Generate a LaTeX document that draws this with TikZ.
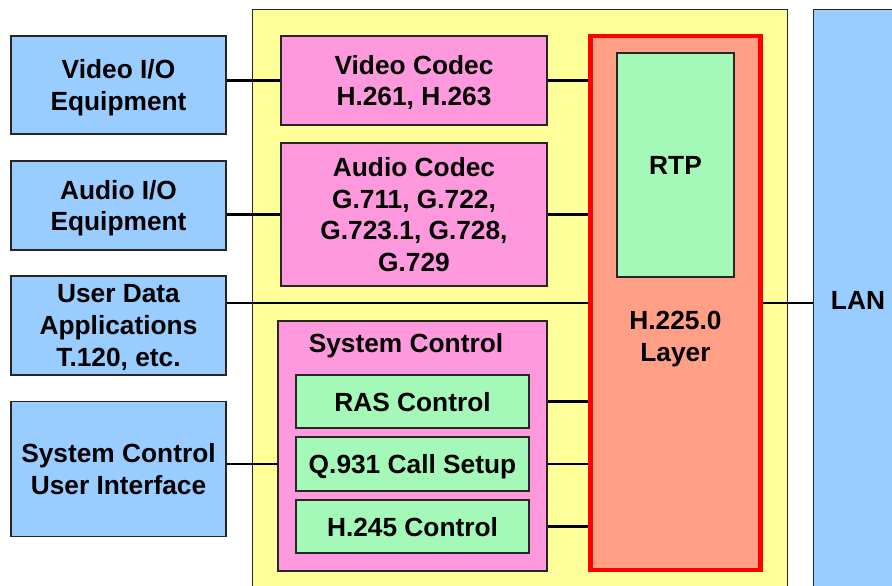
\documentclass[tikz,border=0pt]{standalone}
\usepackage{fontspec}
\setmainfont{Liberation Sans}
\pgfdeclarelayer{back}
\pgfdeclarelayer{wires}
\pgfsetlayers{back,wires,main}
\definecolor{ioblue}{HTML}{99CCFF}
\definecolor{termyellow}{HTML}{FFFF99}
\definecolor{codecpink}{HTML}{FF99DD}
\definecolor{protogreen}{HTML}{A4F8B8}
\definecolor{layersalmon}{HTML}{FF9F85}
\definecolor{layerred}{HTML}{FF0000}
\tikzset{
  txt/.style={align=center, text depth=0pt,
    font=\bfseries\fontsize{26.3}{31.8}\selectfont},
  box/.style={txt, draw=black!85, line width=1.3pt, inner sep=0pt},
  iobox/.style={box, fill=ioblue},
  termbox/.style={box, fill=termyellow},
  codecbox/.style={box, fill=codecpink},
  protobox/.style={box, fill=protogreen},
  layerbox/.style={box, draw=layerred, line width=4.5pt, fill=layersalmon},
  label/.style={txt, inner sep=0pt},
  wire/.style={draw=black, line width=2.6pt}
}
\begin{document}
\begin{tikzpicture}[x=1pt,y=-1pt]
  \useasboundingbox (0,0) rectangle (892,586);
  \clip (0,0) rectangle (892,586);

  % page, terminal frame and network
  \begin{pgfonlayer}{back}
    \fill[white] (0,0) rectangle (892,586);
    \node[termbox, anchor=north west, minimum width=535pt, minimum height=620pt] (term) at (252,9) {};
    \node[iobox, anchor=north west, minimum width=150pt, minimum height=620pt] (lan) at (813,9) {};
  \end{pgfonlayer}
  \node[label] (lant) at (858,300) {LAN};

  % external equipment
  \node[iobox, minimum width=215pt, minimum height=98pt]  (vio)   at (118.5,85)    {Video I/O\\Equipment};
  \node[iobox, minimum width=215pt, minimum height=89pt]  (aio)   at (118.5,205.5) {Audio I/O\\Equipment};
  \node[iobox, minimum width=215pt, minimum height=99pt]  (udapp) at (118.5,325.5) {User Data\\Applications\\T.120, etc.};
  \node[iobox, minimum width=215pt, minimum height=135pt] (scui)  at (118.5,469)   {System Control\\User Interface};

  % codecs
  \node[codecbox, minimum width=266pt, minimum height=89pt]  (vcod) at (414,80.5)  {Video Codec\\H.261, H.263};
  \node[codecbox, minimum width=266pt, minimum height=143pt] (acod) at (414,214.5) {Audio Codec\\G.711, G.722,\\G.723.1, G.728,\\G.729};

  % system control
  \node[codecbox, minimum width=269pt, minimum height=250pt] (sysc) at (412.5,446) {};
  \node[label] (sysct) at (406,343) {System Control};
  \node[protobox, minimum width=233pt, minimum height=53pt] (ras)  at (412.5,401.5) {RAS Control};
  \node[protobox, minimum width=233pt, minimum height=54pt] (q931) at (412.5,464)   {Q.931 Call Setup};
  \node[protobox, minimum width=233pt, minimum height=53pt] (h245) at (412.5,526.5) {H.245 Control};

  % H.225.0 layer with RTP
  \node[layerbox, minimum width=170pt, minimum height=534pt] (h225) at (675.5,303) {};
  \node[label] (h225t) at (675.5,336) {H.225.0\\Layer};
  \node[protobox, minimum width=117pt, minimum height=224pt] (rtp) at (675.5,165) {RTP};

  % connections
  \coordinate (ud) at (0,303);
  \begin{pgfonlayer}{wires}
    \draw[wire] (vio.east |- vcod.west) -- (vcod.west);
    \draw[wire] (vcod.east) -- (rtp.west |- vcod.east);
    \draw[wire] (aio.east |- acod.west) -- (acod.west);
    \draw[wire] (acod.east) -- (rtp.west |- acod.east);
    \draw[wire] (udapp.east |- ud) -- (h225.west |- ud);
    \draw[wire] (h225.east |- ud) -- (lan.west |- ud);
    \draw[wire] (scui.east |- q931.west) -- (sysc.west |- q931.west);
    \draw[wire] (ras.east) -- (h225.west |- ras.east);
    \draw[wire] (q931.east) -- (h225.west |- q931.east);
    \draw[wire] (h245.east) -- (h225.west |- h245.east);
  \end{pgfonlayer}
\end{tikzpicture}
\end{document}
